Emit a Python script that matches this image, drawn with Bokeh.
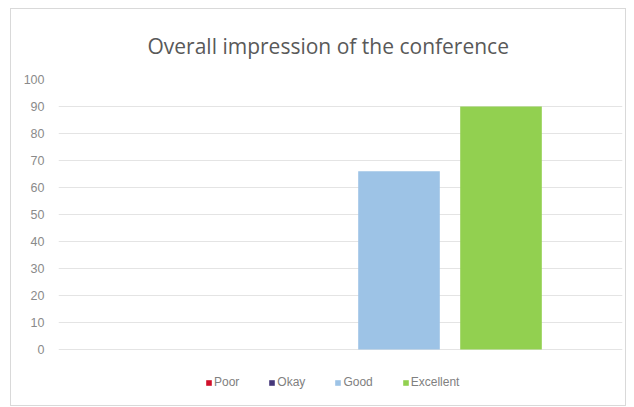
from bokeh.plotting import figure
from bokeh.models import ColumnDataSource, Legend, LegendItem, FixedTicker
from bokeh.embed import file_html
from bokeh.resources import INLINE

categories = ["Poor", "Okay", "Good", "Excellent"]
values = [0, 0, 66, 90]
colors = ["#D0102A", "#45377A", "#9DC3E6", "#92D050"]
y_ticks = list(range(0, 101, 10))

src = ColumnDataSource(dict(x=list(range(len(categories))), top=values, color=colors, cat=categories))

p = figure(width=616, height=398, output_backend="svg", toolbar_location=None,
           x_range=(-1.338, 4.191), y_range=(-18.15, 100),
           min_border_left=47, min_border_right=5, min_border_top=70, min_border_bottom=9)
p.margin = (8, 0, 0, 10)
p.styles = {"border": "1px solid #d9d9d9"}
p.outline_line_color = None
p.background_fill_color = "white"
p.border_fill_color = "white"

p.title.text = "Overall impression of the conference"
p.title.align = "left"
p.title.vertical_align = "middle"
p.title.text_font = "Open Sans"
p.title.text_font_style = "normal"
p.title.text_font_size = "21px"
p.title.text_color = "#595959"
p.title.standoff = 37
p.title.offset = 89

r = p.vbar(x="x", top="top", width=0.8, bottom=0, fill_color="color",
           line_color=None, source=src)

p.xaxis.visible = False
p.xgrid.visible = False
p.yaxis.ticker = FixedTicker(ticks=y_ticks)
p.yaxis.axis_line_color = None
p.yaxis.major_tick_line_color = None
p.yaxis.minor_tick_line_color = None
p.yaxis.major_label_text_font = "Liberation Sans"
p.yaxis.major_label_text_font_size = "12.5px"
p.yaxis.major_label_text_color = "#8a8a8a"
p.yaxis.major_label_standoff = 8
p.ygrid.ticker = FixedTicker(ticks=y_ticks)
p.ygrid.grid_line_color = "#e4e4e4"
p.ygrid.grid_line_width = 1

items = [LegendItem(label=c, renderers=[r], index=i) for i, c in enumerate(categories)]
legend = Legend(items=items, orientation="horizontal", location=(147, 9),
                label_text_font="Liberation Sans", label_text_font_size="12px",
                label_text_color="#808080", glyph_width=7, glyph_height=7,
                label_standoff=2, spacing=29, padding=0, margin=0,
                border_line_color=None, background_fill_alpha=0, label_height=12)
p.add_layout(legend, "center")

open("out.html", "w").write(file_html(p, INLINE))
